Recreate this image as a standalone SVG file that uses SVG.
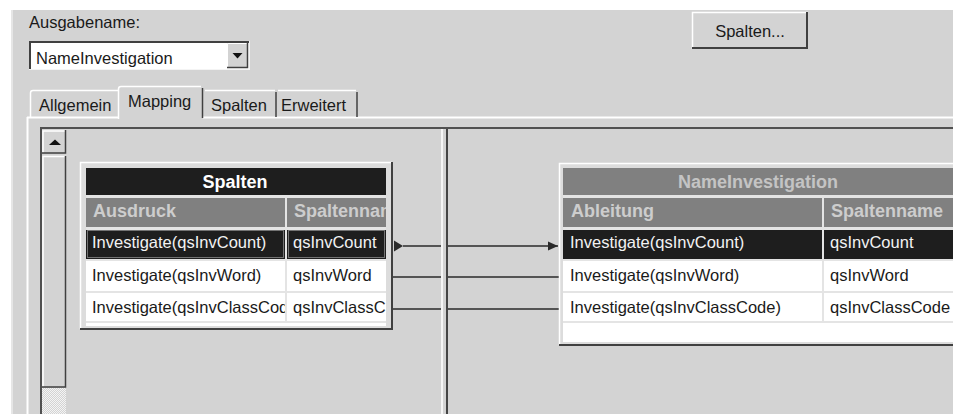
<svg xmlns="http://www.w3.org/2000/svg" width="953" height="414" viewBox="0 0 953 414">
<defs>
<style>
.t{font-family:"Liberation Sans",Arial,sans-serif;font-size:16.5px;fill:#1a1a1a}
.b{font-weight:bold;font-size:18px}
.w{fill:#f2f2f2}
.h{fill:#cdcdcd}
.hi{stroke:#ffffff;stroke-width:2;fill:none}
.sh{stroke:#404040;stroke-width:2;fill:none}
.con{stroke:#2a2a2a;stroke-width:1.6;fill:none}
.dot{fill:none;stroke:#c8c8c8;stroke-width:1;stroke-dasharray:1 1}
</style>
<marker id="arr" markerUnits="userSpaceOnUse" markerWidth="11" markerHeight="10" refX="10" refY="5" orient="auto">
<path d="M0,0.5 L10,5 L0,9.5 z" fill="#2a2a2a"/>
</marker>
<pattern id="chk" width="2" height="2" patternUnits="userSpaceOnUse">
<rect width="2" height="2" fill="#d3d3d3"/><rect width="1" height="1" fill="#f4f4f4"/><rect x="1" y="1" width="1" height="1" fill="#f4f4f4"/>
</pattern>
<clipPath id="cL1"><rect x="86" y="198" width="199" height="130"/></clipPath>
<clipPath id="cL2"><rect x="287" y="198" width="99" height="130"/></clipPath>
</defs>

<!-- window background -->
<rect x="0" y="0" width="953" height="414" fill="#d3d3d3"/>
<rect x="0" y="0" width="953" height="10" fill="#ffffff"/>
<rect x="0" y="0" width="11" height="414" fill="#ffffff"/>
<rect x="11" y="10" width="2" height="404" fill="#e6e6e6"/>

<!-- Ausgabename -->
<text class="t" x="29" y="28">Ausgabename:</text>
<rect x="29" y="41" width="221" height="29" fill="#ffffff"/>
<path d="M30 70 V42 H250" class="sh"/>
<path d="M29 69.5 H250 M249.5 41 V70" stroke="#f4f4f4" stroke-width="1" fill="none"/>
<text class="t" x="36" y="64">NameInvestigation</text>
<rect x="227" y="43" width="21" height="25" fill="#d3d3d3"/>
<path d="M227.5 68 V43.5 H248" stroke="#ffffff" stroke-width="1" fill="none"/>
<path d="M227 67.5 H247.5 V43" stroke="#404040" stroke-width="1.5" fill="none"/>
<path d="M232.5 53 H242.5 L237.5 58.5 z" fill="#111"/>

<!-- Spalten... button -->
<rect x="692" y="12" width="116" height="37" fill="#d3d3d3"/>
<path d="M692.5 49 V12.5 H808" stroke="#ffffff" stroke-width="1.5" fill="none"/>
<path d="M692 48 H807 V12" class="sh"/>
<text class="t" x="750" y="37" text-anchor="middle">Spalten...</text>

<!-- tab panel -->
<path d="M27 117.5 H118 M203 117.5 H953" class="hi"/>
<path d="M27.5 117 V414" class="hi"/>
<!-- tabs -->
<path d="M30.5 118 V93 Q30.5 90.5 33 90.5 H118" stroke="#ffffff" stroke-width="1.5" fill="none"/>
<text class="t" x="39" y="111">Allgemein</text>
<rect x="118" y="86" width="85" height="33" fill="#d3d3d3"/>
<path d="M118.5 119 V89 Q118.5 86.5 121 86.5 H201" stroke="#ffffff" stroke-width="1.5" fill="none"/>
<path d="M202.5 88 V118" stroke="#404040" stroke-width="1.5" fill="none"/>
<text class="t" x="128" y="107">Mapping</text>
<path d="M205 90.5 H275" stroke="#ffffff" stroke-width="1.5" fill="none"/>
<path d="M276 92 V117" stroke="#404040" stroke-width="1.5" fill="none"/>
<text class="t" x="211" y="111">Spalten</text>
<path d="M278 90.5 H356" stroke="#ffffff" stroke-width="1.5" fill="none"/>
<path d="M357 92 V117" stroke="#404040" stroke-width="1.5" fill="none"/>
<text class="t" x="281" y="111">Erweitert</text>

<!-- inner mapping area -->
<path d="M41 414 V128 H953" stroke="#505050" stroke-width="2" fill="none"/>

<!-- scrollbar -->
<rect x="42" y="129" width="24" height="285" fill="#d3d3d3"/>
<rect x="42" y="130" width="23" height="23" fill="#d3d3d3"/>
<path d="M43 153 V131 H65" stroke="#ffffff" stroke-width="1.5" fill="none"/>
<path d="M42 153 H65.5 V130" stroke="#404040" stroke-width="1.5" fill="none"/>
<path d="M49 145 H61 L55 139.5 z" fill="#111"/>
<path d="M43 387 V156.5 H65" stroke="#ffffff" stroke-width="1.5" fill="none"/>
<path d="M42 387 H65.5 V156" stroke="#404040" stroke-width="1.5" fill="none"/>
<rect x="42" y="388" width="24" height="26" fill="url(#chk)"/>

<!-- connectors -->
<g id="connectors">
<path d="M394 240.5 V251.5 L403 246 z" fill="#2a2a2a"/>
<path id="c1" class="con" d="M403 246 H558" marker-end="url(#arr)"/>
<path id="c2" class="con" d="M393 277 H559"/>
<path id="c3" class="con" d="M393 309 H559"/>
</g>

<!-- splitter -->
<rect x="441" y="129" width="7" height="285" fill="#d3d3d3"/>
<rect x="441" y="129" width="2" height="285" fill="#f6f6f6"/>
<rect x="446" y="129" width="2" height="285" fill="#454545"/>

<!-- left table -->
<g id="node-spalten">
<rect x="80" y="162" width="313" height="168" fill="#dcdcdc"/>
<path d="M80.5 329 V162.5 H392" stroke="#ffffff" stroke-width="1.5" fill="none"/>
<path d="M80 329 H392 V162" class="sh"/>
<rect x="86" y="168" width="300" height="158" fill="#e4e4e4"/>
<rect x="86" y="168" width="300" height="27" fill="#1e1e1e"/>
<text class="t b" x="235" y="188" text-anchor="middle" style="fill:#ffffff">Spalten</text>
<rect x="86" y="198" width="199" height="29" fill="#808080"/>
<rect x="287" y="198" width="99" height="29" fill="#808080"/>
<rect x="86" y="230" width="199" height="29" fill="#1e1e1e"/>
<rect x="287" y="230" width="99" height="29" fill="#1e1e1e"/>
<rect x="87.5" y="230.5" width="196" height="27" class="dot"/>
<rect x="288.5" y="230.5" width="96" height="27" class="dot"/>
<rect x="86" y="261" width="199" height="30" fill="#ffffff"/>
<rect x="287" y="261" width="99" height="30" fill="#ffffff"/>
<rect x="86" y="293" width="199" height="28" fill="#ffffff"/>
<rect x="287" y="293" width="99" height="28" fill="#ffffff"/>
<rect x="86" y="323" width="300" height="3" fill="#ffffff"/>
<g clip-path="url(#cL1)">
<text class="t b h" x="93" y="217">Ausdruck</text>
<text class="t w" x="92" y="248">Investigate(qsInvCount)</text>
<text class="t" x="92" y="281">Investigate(qsInvWord)</text>
<text class="t" x="92" y="313">Investigate(qsInvClassCod</text>
</g>
<g clip-path="url(#cL2)">
<text class="t b h" x="294" y="217">Spaltennam</text>
<text class="t w" x="293" y="248">qsInvCount</text>
<text class="t" x="293" y="281">qsInvWord</text>
<text class="t" x="293" y="313">qsInvClassC</text>
</g>
</g>

<!-- right table -->
<g id="node-nameinvestigation">
<rect x="559" y="163" width="394" height="183" fill="#dcdcdc"/>
<path d="M559.5 345 V163.5 H953" stroke="#ffffff" stroke-width="1.5" fill="none"/>
<path d="M559 345 H953" class="sh"/>
<rect x="563" y="168" width="390" height="174" fill="#e4e4e4"/>
<rect x="563" y="168" width="390" height="27" fill="#808080"/>
<text class="t b" x="758" y="188" text-anchor="middle" style="fill:#c4c4c4">NameInvestigation</text>
<rect x="563" y="198" width="259" height="29" fill="#808080"/>
<rect x="824" y="198" width="129" height="29" fill="#808080"/>
<text class="t b h" x="571" y="217">Ableitung</text>
<text class="t b h" x="831" y="217">Spaltenname</text>
<rect x="563" y="230" width="259" height="29" fill="#1e1e1e"/>
<rect x="824" y="230" width="129" height="29" fill="#1e1e1e"/>
<rect x="563" y="261" width="259" height="30" fill="#ffffff"/>
<rect x="824" y="261" width="129" height="30" fill="#ffffff"/>
<rect x="563" y="293" width="259" height="28" fill="#ffffff"/>
<rect x="824" y="293" width="129" height="28" fill="#ffffff"/>
<rect x="563" y="323" width="390" height="19" fill="#ffffff"/>
<text class="t w" x="570" y="248">Investigate(qsInvCount)</text>
<text class="t" x="570" y="281">Investigate(qsInvWord)</text>
<text class="t" x="570" y="313">Investigate(qsInvClassCode)</text>
<text class="t w" x="830" y="248">qsInvCount</text>
<text class="t" x="830" y="281">qsInvWord</text>
<text class="t" x="830" y="313">qsInvClassCode</text>
</g>
</svg>
